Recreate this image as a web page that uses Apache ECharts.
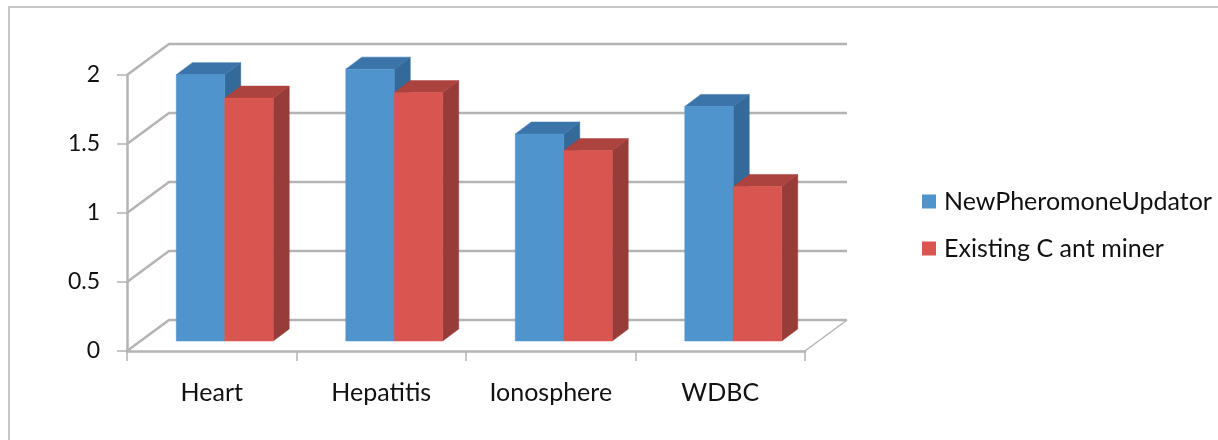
<!DOCTYPE html>
<html>
<head>
<meta charset="utf-8">
<style>
  html, body { margin: 0; padding: 0; background: #fff; overflow: hidden; }
  #chart { width: 1218px; height: 440px; filter: blur(0.5px); }
</style>
<script src="https://cdn.jsdelivr.net/npm/echarts@6/dist/echarts.min.js"></script>
</head>
<body>
<div id="chart"></div>
<script>
const categories = ['Heart', 'Hepatitis', 'Ionosphere', 'WDBC']
const newPheromoneUpdator = [1.93, 1.97, 1.5, 1.7]
const existingCantMiner = [1.76, 1.8, 1.38, 1.12]
const wallTicks = [0, 0.5, 1, 1.5, 2]

const FONT = 'Lato, "Open Sans", sans-serif'
const GRID_COLOR = '#b4b4b4'
// depth of the chart box, and where the bars sit inside it
const WALL_DX = 42
const WALL_DY = -31
const BAR_DX = 13
const BAR_DY = -10
const TOP_DX = 16
const TOP_DY = -12
const BAR_SHARE = 0.286

const line = (points, width) => ({
  type: 'polyline',
  shape: { points },
  style: { fill: 'none', stroke: GRID_COLOR, lineWidth: width }
})

const renderWall = (params, api) => {
  const value = api.value(0)
  const y = api.coord([0, value])[1]
  const left = params.coordSys.x
  const right = left + params.coordSys.width
  const children = [line([
    [left, y],
    [left + WALL_DX, y + WALL_DY],
    [right + WALL_DX, y + WALL_DY]
  ], 2.5)]
  if (value === 0) {
    children.push(line([[right, y], [right + WALL_DX, y + WALL_DY]], 1.5))
  }
  return { type: 'group', children }
}

const makeBarRenderer = (side, front, top, shade) => (params, api) => {
  const cat = api.value(0)
  const band = api.size([1, 0])[0]
  const w = band * BAR_SHARE
  const center = api.coord([cat, 0])[0] + BAR_DX
  const x0 = side < 0 ? center - w : center
  const x1 = x0 + w
  const y0 = api.coord([cat, 0])[1] + BAR_DY
  const y1 = api.coord([cat, api.value(1)])[1] + BAR_DY
  const poly = (points, fill) => ({
    type: 'polygon',
    shape: { points },
    style: { fill, stroke: fill, lineWidth: 0.5 }
  })
  return {
    type: 'group',
    children: [
      poly([[x1, y1], [x1 + TOP_DX, y1 + TOP_DY], [x1 + TOP_DX, y0 + TOP_DY], [x1, y0]], shade),
      poly([[x0, y1], [x0 + TOP_DX, y1 + TOP_DY], [x1 + TOP_DX, y1 + TOP_DY], [x1, y1]], top),
      poly([[x0, y0], [x0, y1], [x1, y1], [x1, y0]], front)
    ]
  }
}

const chart = echarts.init(document.getElementById('chart'), null, { renderer: 'canvas' })

chart.setOption({
  animation: false,
  backgroundColor: '#fff',
  graphic: [{
    type: 'rect',
    shape: { x: 9, y: 7, width: 1300, height: 500 },
    style: { fill: 'none', stroke: '#b4b4b4', lineWidth: 1.5 },
    silent: true
  }],
  grid: { left: 127, top: 75, width: 678, height: 276, containLabel: false },
  legend: {
    left: 917,
    top: 184,
    orient: 'vertical',
    icon: 'rect',
    itemWidth: 14,
    itemHeight: 14,
    itemGap: 22,
    textStyle: { fontFamily: FONT, fontSize: 25, color: '#111', padding: [0, 0, 0, 3] },
    data: ['NewPheromoneUpdator', 'Existing C ant miner']
  },
  xAxis: {
    type: 'category',
    data: categories,
    axisLine: { lineStyle: { color: GRID_COLOR, width: 2.5 } },
    axisTick: { show: true, length: 10, lineStyle: { color: GRID_COLOR, width: 1.5 } },
    axisLabel: { fontFamily: FONT, fontSize: 25, color: '#111', margin: 29 }
  },
  yAxis: {
    type: 'value',
    min: 0,
    max: 2,
    interval: 0.5,
    splitLine: { show: false },
    axisLine: { show: true, lineStyle: { color: GRID_COLOR, width: 2.5 } },
    axisTick: { show: true, length: 10, lineStyle: { color: GRID_COLOR, width: 1.5 } },
    axisLabel: { fontFamily: FONT, fontSize: 23, color: '#111', margin: 27, padding: [6, 0, 0, 0] }
  },
  series: [
    {
      type: 'custom',
      name: 'walls',
      z: 1,
      silent: true,
      renderItem: renderWall,
      encode: { y: 0 },
      data: wallTicks.map(v => [v])
    },
    {
      type: 'custom',
      name: 'NewPheromoneUpdator',
      z: 3,
      itemStyle: { color: '#4f94cd' },
      renderItem: makeBarRenderer(-1, '#4f94cd', '#3a74a8', '#336a99'),
      encode: { x: 0, y: 1 },
      data: newPheromoneUpdator.map((v, i) => [i, v])
    },
    {
      type: 'custom',
      name: 'Existing C ant miner',
      z: 4,
      itemStyle: { color: '#d95650' },
      renderItem: makeBarRenderer(1, '#d95650', '#ad433e', '#973c39'),
      encode: { x: 0, y: 1 },
      data: existingCantMiner.map((v, i) => [i, v])
    }
  ]
})
</script>
</body>
</html>
